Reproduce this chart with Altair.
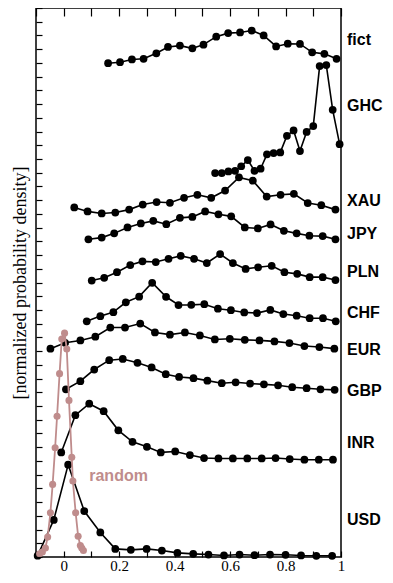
import altair as alt
import pandas as pd

# ---- data ----
usd_x = [-0.094, -0.036, 0.016, 0.074, 0.132, 0.186, 0.242, 0.299, 0.354, 0.410, 0.467, 0.522, 0.578, 0.634, 0.688, 0.744, 0.800, 0.856, 0.911, 0.968]
usd_y = [0.10, 2.70, 6.73, 3.35, 1.79, 0.59, 0.52, 0.59, 0.47, 0.30, 0.23, 0.18, 0.11, 0.18, 0.13, 0.18, 0.16, 0.11, 0.09, 0.09]

inr_x = [-0.009, 0.042, 0.092, 0.144, 0.197, 0.248, 0.300, 0.350, 0.402, 0.455, 0.506, 0.558, 0.610, 0.662, 0.714, 0.764, 0.815, 0.868, 0.920, 0.971]
inr_y = [7.62, 10.33, 11.17, 10.62, 9.23, 8.39, 8.03, 7.62, 7.69, 7.43, 7.21, 7.18, 7.18, 7.18, 7.18, 7.21, 7.14, 7.09, 7.09, 7.09]

gbp_x = [0.008, 0.060, 0.110, 0.164, 0.213, 0.266, 0.317, 0.368, 0.416, 0.468, 0.518, 0.570, 0.620, 0.672, 0.722, 0.773, 0.824, 0.876, 0.926, 0.977]
gbp_y = [12.22, 12.81, 13.66, 14.34, 14.43, 14.15, 13.81, 13.32, 13.12, 13.03, 12.85, 12.66, 12.73, 12.64, 12.58, 12.51, 12.37, 12.30, 12.22, 12.18]

eur_x = [-0.048, 0.005, 0.060, 0.114, 0.168, 0.221, 0.276, 0.329, 0.383, 0.437, 0.491, 0.545, 0.599, 0.653, 0.706, 0.760, 0.814, 0.868, 0.922, 0.976]
eur_y = [15.18, 15.61, 15.78, 16.05, 16.72, 16.72, 17.01, 16.36, 16.20, 16.36, 16.14, 15.85, 15.90, 15.82, 15.78, 15.71, 15.59, 15.37, 15.30, 15.18]

chf_x = [0.083, 0.132, 0.179, 0.224, 0.272, 0.319, 0.369, 0.414, 0.460, 0.507, 0.556, 0.603, 0.651, 0.697, 0.745, 0.792, 0.840, 0.887, 0.935, 0.981]
chf_y = [17.17, 17.55, 17.84, 18.56, 18.97, 19.98, 18.96, 18.36, 18.37, 18.42, 18.09, 17.98, 17.82, 17.77, 18.00, 17.70, 17.58, 17.40, 17.40, 17.17]

pln_x = [0.101, 0.146, 0.192, 0.240, 0.284, 0.332, 0.378, 0.422, 0.470, 0.516, 0.564, 0.610, 0.656, 0.701, 0.750, 0.796, 0.842, 0.887, 0.934, 0.980]
pln_y = [20.14, 20.34, 20.75, 21.27, 21.54, 21.49, 21.73, 21.94, 21.73, 21.42, 22.07, 21.42, 20.99, 21.11, 21.22, 20.75, 20.63, 20.39, 20.39, 20.18]

jpy_x = [0.089, 0.137, 0.182, 0.230, 0.278, 0.323, 0.370, 0.419, 0.464, 0.510, 0.558, 0.604, 0.653, 0.700, 0.746, 0.794, 0.840, 0.886, 0.934, 0.980]
jpy_y = [23.15, 23.27, 23.58, 24.01, 24.30, 24.49, 24.25, 24.71, 24.78, 25.18, 24.97, 24.82, 24.01, 23.94, 24.23, 23.77, 23.58, 23.41, 23.38, 23.15]

xau_x = [0.038, 0.086, 0.137, 0.186, 0.236, 0.285, 0.335, 0.383, 0.434, 0.482, 0.532, 0.582, 0.632, 0.682, 0.732, 0.782, 0.830, 0.880, 0.929, 0.980]
xau_y = [25.47, 25.18, 25.03, 25.10, 25.31, 25.68, 25.86, 25.81, 26.17, 26.39, 26.17, 26.70, 27.66, 27.42, 26.26, 26.39, 26.46, 25.79, 25.63, 25.31]

ghc_x = [0.546, 0.570, 0.594, 0.618, 0.640, 0.664, 0.688, 0.710, 0.733, 0.757, 0.781, 0.805, 0.829, 0.852, 0.876, 0.900, 0.923, 0.947, 0.970, 0.995]
ghc_y = [27.97, 27.97, 28.09, 28.14, 28.47, 28.92, 28.14, 28.29, 29.34, 29.43, 29.48, 30.69, 31.08, 29.58, 30.97, 31.40, 35.77, 35.84, 32.58, 30.08]

fict_x = [0.160, 0.203, 0.246, 0.288, 0.334, 0.376, 0.419, 0.464, 0.504, 0.550, 0.593, 0.636, 0.678, 0.721, 0.766, 0.808, 0.852, 0.896, 0.940, 0.984]
fict_y = [35.98, 36.05, 36.25, 36.30, 36.70, 37.16, 37.26, 37.06, 37.33, 37.91, 38.17, 38.22, 38.36, 38.00, 37.20, 37.40, 37.38, 36.77, 36.66, 36.30]

random_x = [-0.087, -0.077, -0.066, -0.058, -0.048, -0.040, -0.031, -0.024, -0.015, -0.007, 0.003, 0.011, 0.019, 0.029, 0.033, 0.043, 0.052, 0.060, 0.065, 0.071]
random_y = [0.23, 0.37, 0.66, 1.45, 3.23, 5.29, 7.96, 10.26, 13.36, 15.88, 16.31, 15.16, 11.41, 7.26, 5.54, 3.23, 1.51, 0.83, 0.65, 0.47]

label_names = ["fict", "GHC", "XAU", "JPY", "PLN", "CHF", "EUR", "GBP", "INR", "USD"]
label_y = [37.69, 32.87, 25.95, 23.50, 20.79, 17.75, 15.08, 12.10, 8.28, 2.66]

random_label = "random"
random_label_x = 0.092
random_label_y = 5.87

x_tick_values = [-0.1, 0.0, 0.1, 0.2, 0.3, 0.4, 0.5, 0.6, 0.7, 0.8, 0.9, 1.0]
y_tick_values = list(range(0, 41))

BLACK = "#000000"
PINK = "#bf8c8c"
SERIF = "Liberation Serif"

series = {
    "USD": (usd_x, usd_y), "INR": (inr_x, inr_y), "GBP": (gbp_x, gbp_y),
    "EUR": (eur_x, eur_y), "CHF": (chf_x, chf_y), "PLN": (pln_x, pln_y),
    "JPY": (jpy_x, jpy_y), "XAU": (xau_x, xau_y), "GHC": (ghc_x, ghc_y),
    "fict": (fict_x, fict_y),
}
rows = []
for name, (xs_, ys_) in series.items():
    for i, (a, b) in enumerate(zip(xs_, ys_)):
        rows.append({"series": name, "x": a, "y": b, "i": i})
df = pd.DataFrame(rows)
rand_df = pd.DataFrame({"x": random_x, "y": random_y, "i": list(range(len(random_x)))})
lab_df = pd.DataFrame({"name": label_names, "x": [1.0] * len(label_names), "y": label_y})
rlab_df = pd.DataFrame({"name": [random_label], "x": [random_label_x], "y": [random_label_y]})

xscale = alt.Scale(domain=[-0.1, 1.0], nice=False, zero=False)
yscale = alt.Scale(domain=[0, 40], nice=False, zero=False)

x_bottom = alt.Axis(orient="bottom", values=x_tick_values, offset=-6, tickSize=6,
                    ticks=True, tickColor=BLACK, tickWidth=1.2, domain=False, grid=False,
                    labelPadding=1, labelFlush=False, labelOverlap=False,
                    labelFont=SERIF, labelFontSize=15, labelColor=BLACK,
                    labelExpr="(round(datum.value*10) % 2 == 0) ? format(datum.value, '~g') : ''",
                    title=None)
x_top = alt.Axis(orient="top", values=x_tick_values, offset=-8, tickSize=8,
                 ticks=True, tickColor=BLACK, tickWidth=1.2, domain=False, grid=False,
                 labelExpr="''", title=None)
y_left = alt.Axis(orient="left", values=y_tick_values, offset=-6, tickSize=6,
                  ticks=True, tickColor=BLACK, tickWidth=1.2, domain=False, grid=False,
                  labelExpr="''", title="[normalized probability density]",
                  titlePadding=5, titleFont=SERIF, titleFontSize=18,
                  titleFontWeight="normal", titleColor=BLACK, zindex=1)

# every layer carries the same y axis definition so the shared axis merges cleanly
Y = alt.Y("y:Q", scale=yscale, axis=y_left)

black_lines = alt.Chart(df).mark_line(color=BLACK, strokeWidth=1.6).encode(
    x=alt.X("x:Q", scale=xscale, axis=x_bottom),
    y=Y,
    detail="series:N",
    order="i:Q",
)
black_pts = alt.Chart(df).mark_circle(color=BLACK, size=60, opacity=1).encode(
    x=alt.X("x:Q", scale=xscale, axis=x_top),
    y=Y,
)
pink_line = alt.Chart(rand_df).mark_line(color=PINK, strokeWidth=1.8).encode(
    x=alt.X("x:Q", scale=xscale, axis=None),
    y=Y,
    order="i:Q",
)
pink_pts = alt.Chart(rand_df).mark_circle(color=PINK, size=50, opacity=1).encode(
    x=alt.X("x:Q", scale=xscale, axis=None),
    y=Y,
)
labels = alt.Chart(lab_df).mark_text(align="left", baseline="middle", dx=6, font="Liberation Sans",
                                      fontWeight="bold", fontSize=16, color=BLACK, clip=False).encode(
    x=alt.X("x:Q", scale=xscale, axis=None),
    y=Y,
    text="name:N",
)
rlabel = alt.Chart(rlab_df).mark_text(align="left", baseline="middle", font="Liberation Sans",
                                       fontWeight="bold", fontSize=16, color=PINK).encode(
    x=alt.X("x:Q", scale=xscale, axis=None),
    y=Y,
    text="name:N",
)

chart = alt.layer(black_lines, black_pts, pink_line, pink_pts, labels, rlabel).resolve_axis(
    x="independent"
).properties(
    width=305, height=549,
    autosize=alt.AutoSizeParams(type="none"),
    padding={"left": 28, "top": 0, "right": 44, "bottom": 17},
).configure_view(stroke=BLACK, strokeWidth=1.5).configure_axis(
    labelFont=SERIF, labelFontSize=15, labelColor=BLACK,
    titleFont=SERIF, titleFontSize=18, titleFontWeight="normal", titleColor=BLACK
)

chart.save("out.html", embed_options={"renderer": "svg", "actions": False})
